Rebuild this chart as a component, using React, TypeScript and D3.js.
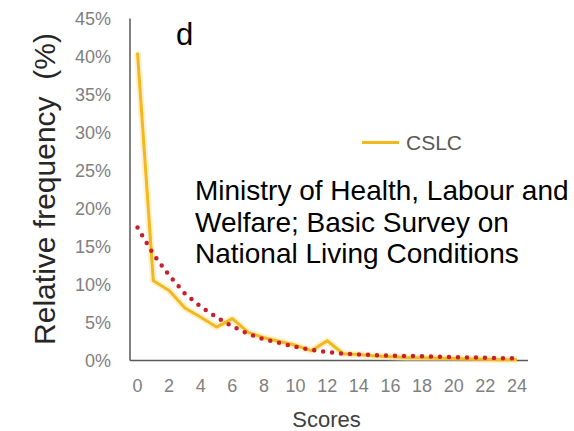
import React from "react";
import * as d3 from "d3";

const scores = [0,1,2,3,4,5,6,7,8,9,10,11,12,13,14,15,16,17,18,19,20,21,22,23,24];
const cslc = [40.5,10.5,9.2,6.9,5.7,4.4,5.5,3.7,3.0,2.5,2.0,1.3,2.6,0.9,0.8,0.6,0.5,0.4,0.35,0.3,0.25,0.2,0.15,0.1,0.1];
const fit = [17.5,14.0,11.2,8.8,7.1,5.7,4.5,3.5,2.8,2.3,1.8,1.4,1.1,0.9,0.8,0.7,0.65,0.6,0.55,0.5,0.45,0.4,0.35,0.3,0.3];
const yTicks = [0,5,10,15,20,25,30,35,40,45];
const xTicks = [0,2,4,6,8,10,12,14,16,18,20,22,24];
const noteLines = ["Ministry of Health, Labour and", "Welfare; Basic Survey on", "National Living Conditions"];

export default function App() {
  const W = 574, H = 431;
  const x = d3.scaleLinear().domain([0, 24]).range([137.5, 517]);
  const y = d3.scaleLinear().domain([0, 45]).range([360.5, 18.5]);
  const line = d3.line<number>().x((_, i) => x(scores[i])).y(d => y(d));
  const font = "Arial, 'Liberation Sans', Helvetica, sans-serif";
  const axisX0 = 130, axisX1 = 528;
  return (
    <svg width={W} height={H} style={{ position: "absolute", left: 0, top: 0, background: "#fff" }} fontFamily={font}>
      {/* axes */}
      <line x1={axisX0} x2={axisX0} y1={y(45)} y2={y(0)} stroke="#595959" strokeWidth={1.5} />
      <line x1={axisX0} x2={axisX1} y1={y(0)} y2={y(0)} stroke="#595959" strokeWidth={1.5} />
      {yTicks.map(t => (
        <text key={t} x={111} y={y(t)} dy="0.35em" textAnchor="end" fontSize={18} fill="#808080">{t}%</text>
      ))}
      {xTicks.map(t => (
        <text key={t} x={x(t)} y={392} textAnchor="middle" fontSize={18} fill="#808080">{t}</text>
      ))}
      <text x={326.5} y={426.5} textAnchor="middle" fontSize={22} fill="#404040">Scores</text>
      <text transform={`translate(55,189) rotate(-90)`} textAnchor="middle" fontSize={30} fill="#262626" style={{ whiteSpace: "pre" }}>{"Relative frequency  (%)"}</text>
      <text x={176} y={45} fontSize={31} fill="#000">d</text>
      {/* series */}
      <path d={line(cslc) || ""} fill="none" stroke="#FBE3A0" strokeWidth={7} strokeOpacity={0.5} strokeLinejoin="round" />
      <path d={line(cslc) || ""} fill="none" stroke="#F2B91E" strokeWidth={3} strokeLinejoin="round" />
      <path d={line(fit) || ""} fill="none" stroke="#C81E2E" strokeWidth={4.5} strokeLinecap="round" strokeDasharray="0 9" />
      {/* legend */}
      <line x1={362} x2={399} y1={142.5} y2={142.5} stroke="#F2B91E" strokeWidth={3} />
      <text x={406} y={142.5} dy="0.35em" fontSize={21} fill="#595959">CSLC</text>
      {noteLines.map((l, i) => (
        <text key={i} x={195} y={200 + i * 31.5} fontSize={28} fill="#000">{l}</text>
      ))}
    </svg>
  );
}
